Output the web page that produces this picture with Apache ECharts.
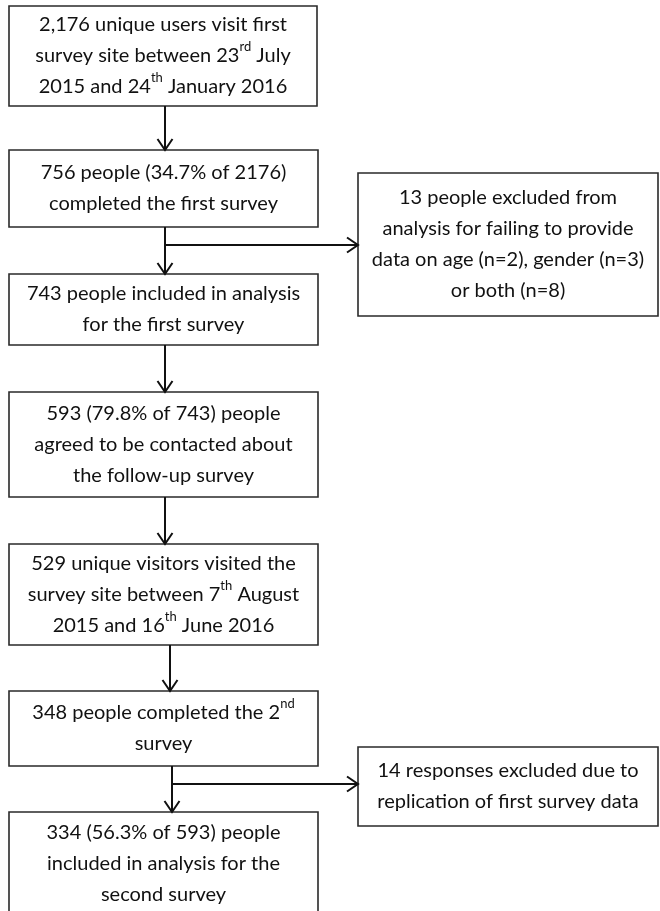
<!DOCTYPE html>
<html><head><meta charset="utf-8">
<script src="https://cdn.jsdelivr.net/npm/echarts@6/dist/echarts.min.js"></script>
<style>html,body{margin:0;padding:0;background:#fff}#c{width:660px;height:911px}</style>
</head><body><div id="c"></div>
<script>
// Box texts ({s|..} marks superscript)
const boxTexts = [
  "2,176 unique users visit first\nsurvey site between 23{s|rd} July\n2015 and 24{s|th} January 2016",
  "756 people (34.7% of 2176)\ncompleted the first survey",
  "13 people excluded from\nanalysis for failing to provide\ndata on age (n=2), gender (n=3)\nor both (n=8)",
  "743 people included in analysis\nfor the first survey",
  "593 (79.8% of 743) people\nagreed to be contacted about\nthe follow-up survey",
  "529 unique visitors visited the\nsurvey site between 7{s|th} August\n2015 and 16{s|th} June 2016",
  "348 people completed the 2{s|nd}\nsurvey",
  "14 responses excluded due to\nreplication of first survey data",
  "334 (56.3% of 593) people\nincluded in analysis for the\nsecond survey"
];
// Box layout in diagram units: [x0, y0, x1, y1]
const boxLayout = [
  [9, 6, 317, 106],
  [9, 150, 318, 227],
  [358, 173, 658, 316],
  [9, 274, 318, 345],
  [9, 392, 318, 497],
  [9, 544, 318, 645],
  [9, 691, 318, 766],
  [358, 747, 658, 826],
  [9, 812, 318, 916]
];
// Arrow connectors: [[fromX, fromY], [toX, toY]]
const connectors = [
  [[165, 106], [165, 150]],
  [[165, 227], [165, 274]],
  [[165, 245], [358, 245]],
  [[165, 345], [165, 392]],
  [[165, 497], [165, 544]],
  [[170, 645], [170, 691]],
  [[172, 766], [172, 812]],
  [[172, 784], [358, 784]]
];

const FONT = 'Lato';
const chart = echarts.init(document.getElementById('c'), null, {renderer: 'canvas'});
chart.setOption({
  animation: false,
  backgroundColor: '#ffffff',
  grid: {left: 0, right: 0, top: 0, bottom: 0},
  xAxis: {type: 'value', min: 0, max: 660, show: false},
  yAxis: {type: 'value', min: 0, max: 911, inverse: true, show: false},
  series: [
    {
      type: 'custom',
      clip: false,
      data: boxLayout.map((b, i) => [b[0], b[1], b[2], b[3], i]),
      renderItem: (params, api) => {
        const p0 = api.coord([api.value(0), api.value(1)]);
        const p1 = api.coord([api.value(2), api.value(3)]);
        const i = api.value(4);
        return {
          type: 'group',
          children: [
            {type: 'rect', shape: {x: p0[0], y: p0[1], width: p1[0] - p0[0], height: p1[1] - p0[1]},
             style: {fill: '#fff', stroke: '#2a2a2a', lineWidth: 1.6}},
            {type: 'text', x: (p0[0] + p1[0]) / 2, y: (p0[1] + p1[1]) / 2,
             style: {text: boxTexts[i], fill: '#111', fontSize: 20, fontFamily: FONT,
                     align: 'center', verticalAlign: 'middle', lineHeight: 31,
                     rich: {s: {fontSize: 13, fontFamily: FONT, fill: '#111', verticalAlign: 'top', lineHeight: 28}}}}
          ]
        };
      }
    },
    {
      type: 'custom',
      clip: false,
      data: connectors.map(c => [c[0][0], c[0][1], c[1][0], c[1][1]]),
      renderItem: (params, api) => {
        const a = api.coord([api.value(0), api.value(1)]);
        const b = api.coord([api.value(2), api.value(3)]);
        const dx = b[0] - a[0], dy = b[1] - a[1], L = Math.hypot(dx, dy);
        const ux = dx / L, uy = dy / L, hl = 11, hw = 7.5;
        const h1 = [b[0] - ux * hl - uy * hw, b[1] - uy * hl + ux * hw];
        const h2 = [b[0] - ux * hl + uy * hw, b[1] - uy * hl - ux * hw];
        return {
          type: 'group',
          children: [
            {type: 'line', shape: {x1: a[0], y1: a[1], x2: b[0], y2: b[1]}, style: {stroke: '#111', lineWidth: 2}},
            {type: 'polyline', shape: {points: [h1, [b[0], b[1]], h2]}, style: {stroke: '#111', lineWidth: 2, fill: null}}
          ]
        };
      }
    }
  ]
});
</script></body></html>
